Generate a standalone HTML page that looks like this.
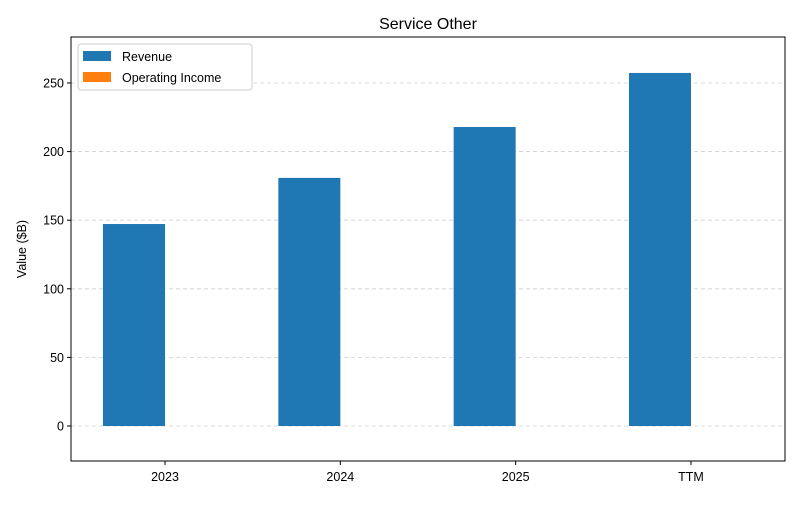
<!DOCTYPE html>
<html><head><meta charset="utf-8"><style>
body{margin:0;background:#fff;}
svg text{font-family:"Liberation Sans","DejaVu Sans",sans-serif;}
</style></head><body>
<svg id="chart" width="800" height="500" xmlns="http://www.w3.org/2000/svg">
<rect width="800" height="500" fill="#fff"/>
<text x="428" y="29" font-size="16" text-anchor="middle" fill="#000">Service Other</text>
<g id="grid"></g><g id="bars"></g><g id="axes"></g>
</svg>
<script>
const categories = ["2023","2024","2025","TTM"];
const revenue = [147.2, 180.8, 217.9, 257.3];
const operatingIncome = [0, 0, 0, 0];
const yTicks = [0, 50, 100, 150, 200, 250];

const L=71,R=785,T=37,B=461, yMin=-25.5, yMax=283.5;
const NS="http://www.w3.org/2000/svg";
function y(v){return B-(v-yMin)/(yMax-yMin)*(B-T);}
function xc(i){return 165+i*175.33;}
function mk(tag,attrs,parent,txt){const e=document.createElementNS(NS,tag);for(const k in attrs)e.setAttribute(k,attrs[k]);if(txt!==undefined)e.textContent=txt;parent.appendChild(e);return e;}
const grid=document.getElementById('grid'),bars=document.getElementById('bars'),axes=document.getElementById('axes');
yTicks.forEach(t=>{
  const g=mk('line',{x1:L,x2:R,y1:y(t),y2:y(t),stroke:'#d0d0d0','stroke-dasharray':'4,3','stroke-width':0.8},grid);
  
  
  const tk=mk('line',{x1:L-4,x2:L,y1:y(t),y2:y(t),stroke:'#000'},axes);
  
  
  const lb=mk('text',{x:L-7,y:y(t)+4.5,'font-size':12.5,'text-anchor':'end'},axes,String(t));
  
  
});
const bw=62;
categories.forEach((c,i)=>{
  const r=mk('rect',{x:xc(i)-bw,y:Math.min(y(revenue[i]),y(0)),width:bw,height:Math.abs(y(0)-y(revenue[i])),fill:'#1f77b4'},bars);
  
  
  const o=mk('rect',{x:xc(i),y:Math.min(y(operatingIncome[i]),y(0)),width:bw,height:Math.abs(y(0)-y(operatingIncome[i])),fill:'#ff7f0e'},bars);
  
  
  const tk=mk('line',{x1:xc(i),x2:xc(i),y1:B,y2:B+4,stroke:'#000'},axes);
  
  
  const lb=mk('text',{x:xc(i),y:B+20,'font-size':12.5,'text-anchor':'middle'},axes,c);
  
  
});
const frame=mk('rect',{x:L,y:T,width:R-L,height:B-T,fill:'none',stroke:'#000','stroke-width':1},axes);


const yt=mk('text',{x:26,y:249,'font-size':12.5,'text-anchor':'middle',transform:'rotate(-90 26 249)'},axes,'Value ($B)');


const lg=mk('g',{},axes);


mk('rect',{x:78,y:44,width:174,height:46,rx:3,fill:'#fff',stroke:'#ccc'},lg);
const e1=mk('rect',{x:83,y:51,width:28,height:10,fill:'#1f77b4'},lg);


mk('text',{x:122,y:61,'font-size':12.5},lg,'Revenue');
const e2=mk('rect',{x:83,y:72,width:28,height:10,fill:'#ff7f0e'},lg);


mk('text',{x:122,y:82,'font-size':12.5},lg,'Operating Income');
</script>
</body></html>
